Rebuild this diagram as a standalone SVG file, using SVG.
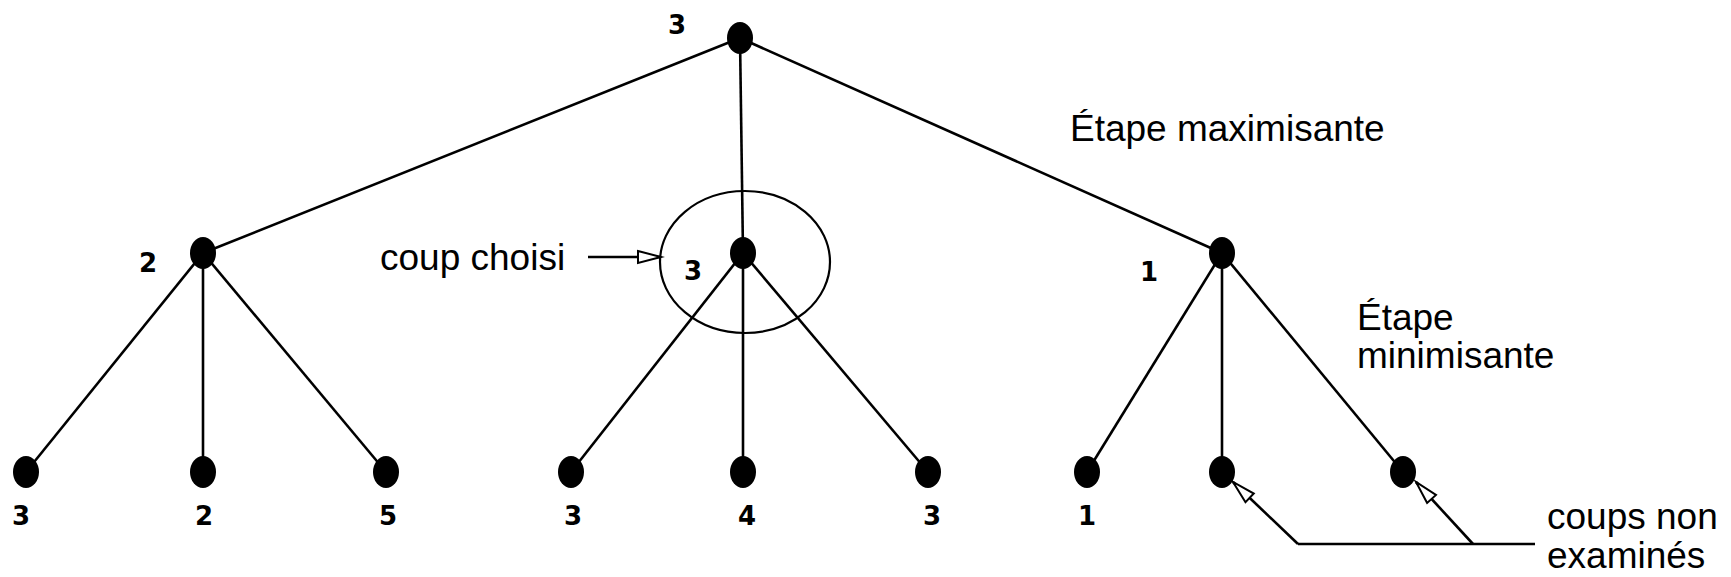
<svg xmlns="http://www.w3.org/2000/svg" width="1731" height="577" viewBox="0 0 1731 577">
<defs>
<marker id="open" markerUnits="userSpaceOnUse" markerWidth="26" markerHeight="16" refX="23" refY="6" orient="auto" overflow="visible">
<path d="M0,0 L23,6 L0,12 Z" fill="#fff" stroke="#000" stroke-width="2"/>
</marker>
<style>
.e{stroke:#000;stroke-width:2.6;fill:none}
.n{fill:#000}
.v{font-family:"DejaVu Sans",sans-serif;font-weight:bold;font-size:26px;fill:#000;text-anchor:middle}
.t{font-family:"Liberation Sans",Arial,sans-serif;font-size:37px;fill:#000}
.a{stroke:#000;stroke-width:2.6;fill:none;marker-end:url(#open)}
</style>
</defs>
<rect width="1731" height="577" fill="#fff"/>
<g id="connectors">
<line class="e" x1="740" y1="38" x2="203" y2="253"/>
<line class="e" x1="740" y1="38" x2="743" y2="253"/>
<line class="e" x1="740" y1="38" x2="1222" y2="253"/>
<line class="e" x1="203" y1="253" x2="26" y2="472"/>
<line class="e" x1="203" y1="253" x2="203" y2="472"/>
<line class="e" x1="203" y1="253" x2="386" y2="472"/>
<line class="e" x1="743" y1="253" x2="571" y2="472"/>
<line class="e" x1="743" y1="253" x2="743" y2="472"/>
<line class="e" x1="743" y1="253" x2="928" y2="472"/>
<line class="e" x1="1222" y1="253" x2="1087" y2="472"/>
<line class="e" x1="1222" y1="253" x2="1222" y2="472"/>
<line class="e" x1="1222" y1="253" x2="1403" y2="472"/>
<line class="a" x1="588" y1="257" x2="661" y2="257"/>
<polyline class="e" points="1298,544 1535,544"/>
<line class="a" x1="1298" y1="544" x2="1233" y2="482"/>
<line class="a" x1="1473" y1="544" x2="1416" y2="482"/>
</g>
<g id="chosen-circle"><ellipse cx="745" cy="262" rx="85" ry="71" fill="none" stroke="#000" stroke-width="2.2"/></g>
<g id="root"><ellipse class="n" cx="740" cy="38" rx="13" ry="16"/><text class="v" x="677" y="34">3</text></g>
<g id="n-left"><ellipse class="n" cx="203" cy="253" rx="13" ry="16"/><text class="v" x="148" y="272">2</text></g>
<g id="n-mid"><ellipse class="n" cx="743" cy="253" rx="13" ry="16"/><text class="v" x="693" y="280">3</text></g>
<g id="n-right"><ellipse class="n" cx="1222" cy="253" rx="13" ry="16"/><text class="v" x="1149" y="281">1</text></g>
<g id="leaf1"><ellipse class="n" cx="26" cy="472" rx="13" ry="16"/><text class="v" x="21" y="525">3</text></g>
<g id="leaf2"><ellipse class="n" cx="203" cy="472" rx="13" ry="16"/><text class="v" x="204" y="525">2</text></g>
<g id="leaf3"><ellipse class="n" cx="386" cy="472" rx="13" ry="16"/><text class="v" x="388" y="525">5</text></g>
<g id="leaf4"><ellipse class="n" cx="571" cy="472" rx="13" ry="16"/><text class="v" x="573" y="525">3</text></g>
<g id="leaf5"><ellipse class="n" cx="743" cy="472" rx="13" ry="16"/><text class="v" x="747" y="525">4</text></g>
<g id="leaf6"><ellipse class="n" cx="928" cy="472" rx="13" ry="16"/><text class="v" x="932" y="525">3</text></g>
<g id="leaf7"><ellipse class="n" cx="1087" cy="472" rx="13" ry="16"/><text class="v" x="1087" y="525">1</text></g>
<g id="leaf8"><ellipse class="n" cx="1222" cy="472" rx="13" ry="16"/></g>
<g id="leaf9"><ellipse class="n" cx="1403" cy="472" rx="13" ry="16"/></g>
<g id="labels">
<text class="t" x="380" y="270">coup choisi</text>
<text class="t" x="1070" y="141">Étape maximisante</text>
<text class="t" x="1357" y="330">Étape</text>
<text class="t" x="1357" y="368">minimisante</text>
<text class="t" x="1547" y="529">coups non</text>
<text class="t" x="1547" y="568">examinés</text>
</g>
</svg>
